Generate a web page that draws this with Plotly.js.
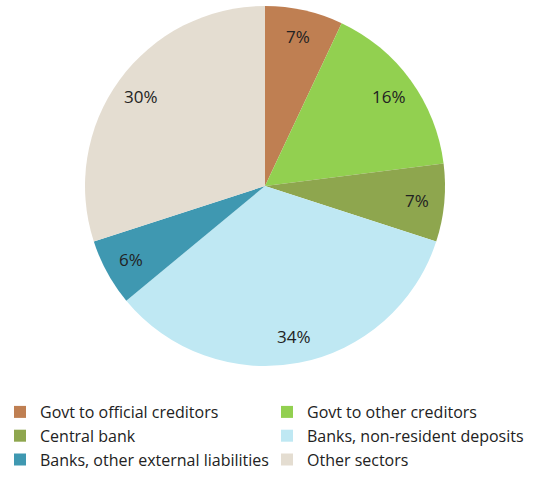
<!DOCTYPE html>
<html>
<head>
<meta charset="utf-8">
<script src="https://cdn.plot.ly/plotly-3.0.1.min.js"></script>
<style>html,body{margin:0;padding:0;background:#fff;}#chart{width:543px;height:477px;}</style>
</head>
<body>
<div id="chart"></div>
<script>
const categories = ["Govt to official creditors", "Govt to other creditors", "Central bank", "Banks, non-resident deposits", "Banks, other external liabilities", "Other sectors"];
const shares = [7, 16, 7, 34, 6, 30];
const sliceColors = ["#bf7f52", "#92d050", "#8ea64e", "#bfe8f3", "#3f98b1", "#e4ddd1"];

const W = 543, H = 477;
const M = { l: 0, r: 0, t: 0, b: 95 };
const PH = H - M.t - M.b;
const dom = { x: [85 / W, 445 / W], y: [(PH - 366) / PH, (PH - 6) / PH] };

const trace = {
  type: "pie",
  labels: categories,
  values: shares,
  sort: false,
  direction: "clockwise",
  rotation: 0,
  marker: { colors: sliceColors, line: { width: 0 } },
  textinfo: "none",
  domain: dom,
  hoverinfo: "label+percent"
};

// percentage labels placed at the slice mid-angle, ~0.85 of the radius (as in the original)
const total = shares.reduce((a, b) => a + b, 0);
const cx = (dom.x[0] + dom.x[1]) / 2, cy = (dom.y[0] + dom.y[1]) / 2;
const rPx = Math.min((dom.x[1] - dom.x[0]) * W, (dom.y[1] - dom.y[0]) * PH) / 2;
let cum = 0;
const annotations = shares.map((v) => {
  const mid = (cum + v / 2) / total * 2 * Math.PI;
  cum += v;
  const rr = 0.85 * rPx;
  return {
    x: cx + rr * Math.sin(mid) / W,
    y: cy + rr * Math.cos(mid) / PH,
    xref: "paper", yref: "paper",
    xanchor: "center", yanchor: "middle",
    text: Math.round(v / total * 100) + "%",
    showarrow: false,
    font: { family: "Open Sans, DejaVu Sans, sans-serif", size: 17, color: "#222" }
  };
});

const layout = {
  width: W, height: H,
  margin: M,
  paper_bgcolor: "#fff",
  showlegend: true,
  annotations: annotations,
  legend: {
    orientation: "h",
    x: 0, xanchor: "left",
    y: (PH - 477) / PH, yanchor: "bottom",
    entrywidth: 222, entrywidthmode: "pixels",
    traceorder: "normal",
    bgcolor: "rgba(0,0,0,0)",
    font: { family: "Open Sans, DejaVu Sans, sans-serif", size: 16, color: "#222" },
    itemwidth: 30
  }
};

Plotly.newPlot("chart", [trace], layout, { displayModeBar: false, staticPlot: true });
</script>
</body>
</html>
